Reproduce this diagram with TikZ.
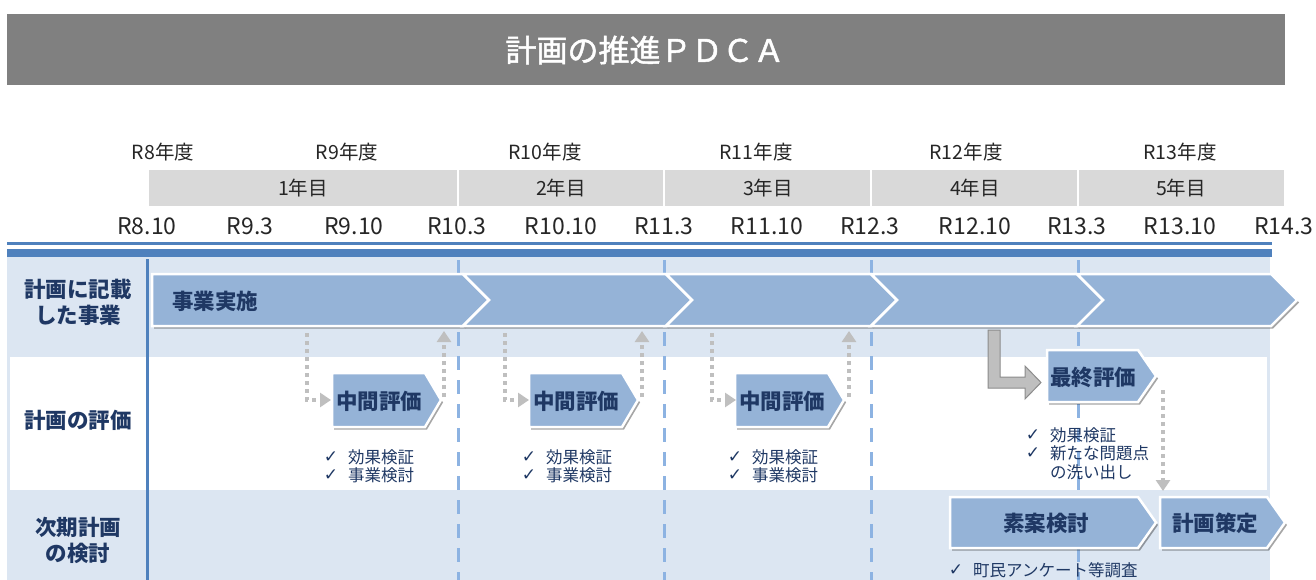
\documentclass[tikz,border=0pt]{standalone}
\usepackage{fontspec}
\setmainfont{Noto Sans CJK JP}
\newfontfamily\semifont{Noto Sans CJK JP}[FakeBold=1.6]
\newfontfamily\chkfont{DejaVu Sans}
\usetikzlibrary{shadows,arrows.meta}
\definecolor{titlegray}{HTML}{808080}
\definecolor{bandgray}{HTML}{D9D9D9}
\definecolor{lineblue}{HTML}{4F81BD}
\definecolor{rowblue}{HTML}{DCE6F2}
\definecolor{boxblue}{HTML}{95B3D7}
\definecolor{navy}{HTML}{1F3864}
\definecolor{dashblue}{HTML}{8DB3E2}
\definecolor{dotgray}{HTML}{BFBFBF}
\definecolor{hdrtext}{HTML}{262626}
\newcommand\chkitem[5]{%
  \node[chkmark] (#1c) at (#2,#4) {✓};
  \node[chktext] (#1) at (#3,#4) {#5};}
\begin{document}
\begin{tikzpicture}[x=1pt,y=-1pt,
  hdr/.style={font=\fontsize{19.5}{22}\selectfont, text=hdrtext, inner sep=0pt},
  datelab/.style={font=\fontsize{23}{26}\selectfont, text=hdrtext, inner sep=0pt},
  rowlab/.style={font=\fontsize{21.5}{26}\selectfont\bfseries, text=navy, align=center, inner sep=0pt},
  boxtext/.style={font=\fontsize{21.5}{24}\selectfont\bfseries, text=navy, inner sep=0pt},
  shapebox/.style={fill=boxblue, draw=white, line width=2.5pt, line join=miter,
    drop shadow={shadow xshift=2pt, shadow yshift=-2.5pt, opacity=0.35, fill=black}},
  vdash/.style={draw=dashblue, line width=3pt, dash pattern=on 14pt off 10pt},
  dotarrow/.style={draw=dotgray, line width=4pt, dash pattern=on 4pt off 4pt,
    -{Triangle[length=11pt,width=14pt]}},
  chkmark/.style={font=\chkfont\fontsize{17}{18}\selectfont, text=navy, inner sep=0pt},
  chktext/.style={font=\fontsize{16.5}{18}\selectfont, text=navy, inner sep=0pt, anchor=west}
]
\useasboundingbox (0,0) rectangle (1316,580);
\fill[white] (0,0) rectangle (1316,580);
% title
\fill[titlegray] (7,14) rectangle (1285,85);
\node[font=\semifont\fontsize{31}{34}\selectfont, text=white, inner sep=0pt] (title) at (645,50) {計画の推進ＰＤＣＡ};
% year labels
\foreach \n/\x/\t in {y8/163/R8年度, y9/347/R9年度, y10/545/R10年度, y11/756/R11年度, y12/966/R12年度, y13/1180/R13年度}
  \node[hdr] (\n) at (\x,152) {\t};
% band
\fill[bandgray] (149,170) rectangle (1284,206);
\foreach \x in {458,664,871,1078}
  \draw[white, line width=1.5pt] (\x,170) -- (\x,206);
\foreach \n/\x/\t in {k1/303/1年目, k2/561/2年目, k3/768/3年目, k4/975/4年目, k5/1181/5年目}
  \node[hdr] (\n) at (\x,188) {\t};
% dates
\foreach \n/\x/\t in {d1/147/R8.10, d2/250/R9.3, d3/354/R9.10, d4/457/R10.3, d5/561/R10.10, d6/664/R11.3, d7/767/R11.10, d8/870/R12.3, d9/975/R12.10, d10/1077/R13.3, d11/1180/R13.10, d12/1284/R14.3}
  \node[datelab] (\n) at (\x,226) {\t};
% blue lines
\fill[lineblue] (7,242) rectangle (1272,244.5);
\fill[lineblue] (7,249) rectangle (1272,257);
% table background
\fill[rowblue] (7,257) rectangle (1270,580);
\fill[white] (10,357) rectangle (1267,490);
\draw[lineblue, line width=3pt] (147,259) -- (147,580);
% dashed dividers
\foreach \x in {458,664,871,1078}
  \draw[vdash] (\x,260) -- (\x,580);
% row labels
\node[rowlab] (r1) at (78,302) {計画に記載\\した事業};
\node[rowlab] (r2) at (78,420) {計画の評価};
\node[rowlab] (r3) at (78,540) {次期計画\\の検討};
% row 1 chevrons
\path[shapebox] (152,274) -- (463,274) -- (489,300) -- (463,326) -- (152,326) -- cycle;
\path[shapebox] (463,274) -- (666,274) -- (692,300) -- (666,326) -- (463,326) -- (489,300) -- cycle;
\path[shapebox] (666,274) -- (871,274) -- (897,300) -- (871,326) -- (666,326) -- (692,300) -- cycle;
\path[shapebox] (871,274) -- (1077,274) -- (1103,300) -- (1077,326) -- (871,326) -- (897,300) -- cycle;
\path[shapebox] (1077,274) -- (1271,274) -- (1297,300) -- (1271,326) -- (1077,326) -- (1103,300) -- cycle;
\node[boxtext, anchor=west] (jigyo) at (172,301) {事業実施};
% row 2 boxes
\foreach \o/\n in {0/m1,197/m2,403/m3}{
  \path[shapebox] (332+\o,373) -- (425+\o,373) -- (441+\o,400) -- (425+\o,427) -- (332+\o,427) -- cycle;
  \node[boxtext] (\n) at (379+\o,401) {中間評価};
}
\path[shapebox] (1047,350) -- (1138,350) -- (1156,376) -- (1138,402) -- (1047,402) -- cycle;
\node[boxtext] (final) at (1093,377) {最終評価};
% row 3 boxes
\path[shapebox] (950,497) -- (1138,497) -- (1156,522.5) -- (1138,548) -- (950,548) -- cycle;
\node[boxtext] (soan) at (1046,523) {素案検討};
\path[shapebox] (1160,497) -- (1267,497) -- (1285,522.5) -- (1267,548) -- (1160,548) -- cycle;
\node[boxtext] (sakutei) at (1215,523) {計画策定};
% dotted arrows
\foreach \o/\n in {0/m1,198/m2,405/m3}{
  \coordinate (dn\n) at (307+\o,333);
  \coordinate (in\n) at (331+\o,400);
  \coordinate (out\n) at (444+\o,397);
  \coordinate (up\n) at (444+\o,331);
  \draw[dotarrow] (dn\n) |- (in\n);
  \draw[dotarrow] (out\n) -- (up\n);
}
\coordinate (fdn) at (1163,390);
\coordinate (fend) at (1163,491);
\draw[dotarrow] (fdn) -- (fend);
% gray L arrow
\path[fill=dotgray, draw=black!45, line width=1pt, line join=miter]
  (988,330) -- (1000,330) -- (1000,377) -- (1025,377) -- (1025,366) -- (1041,382.5)
  -- (1025,399) -- (1025,388) -- (988,388) -- cycle;
% checklists
\foreach \o/\n in {0/a,198/b,404/c}{
  \chkitem{\n1}{331+\o}{348+\o}{457}{効果検証}
  \chkitem{\n2}{331+\o}{348+\o}{475}{事業検討}
}
\chkitem{f1}{1033}{1050}{435}{効果検証}
\chkitem{f2}{1033}{1050}{453}{新たな問題点}
\node[chktext] (f3) at (1050,472) {の洗い出し};
\chkitem{s1}{956}{973}{570}{町民アンケート等調査}
\end{tikzpicture}
\end{document}
